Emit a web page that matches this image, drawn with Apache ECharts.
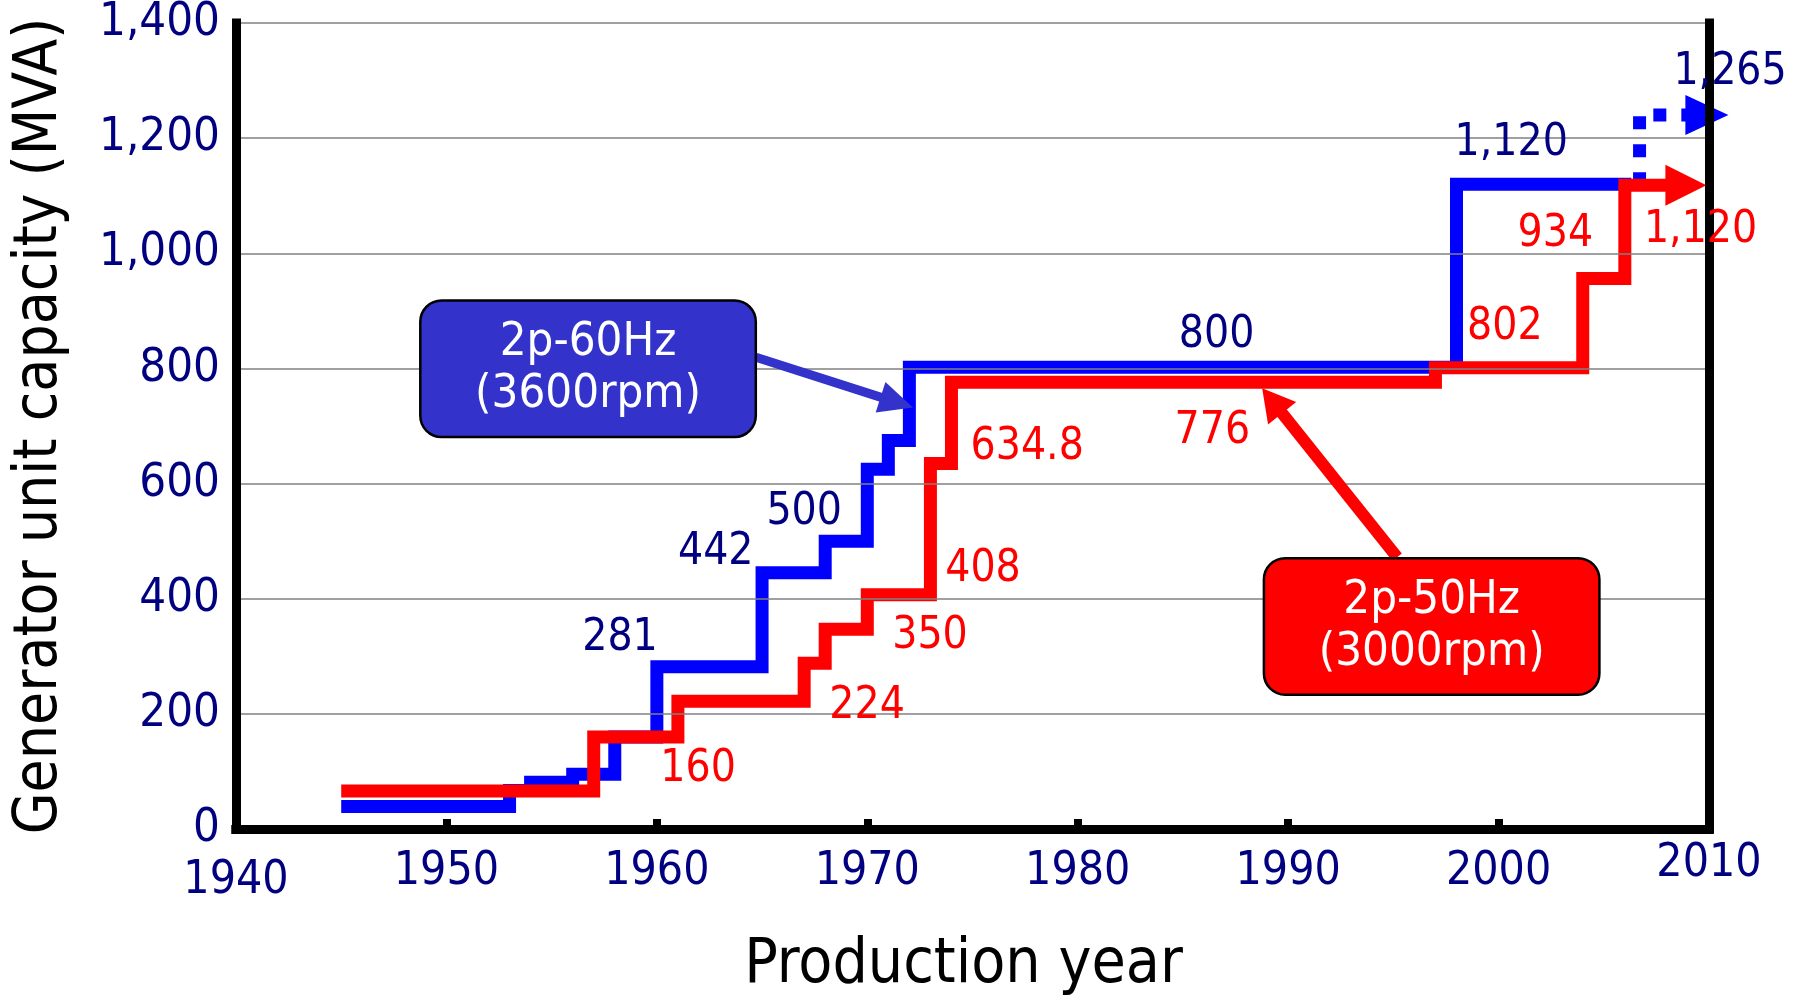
<!DOCTYPE html>
<html>
<head>
<meta charset="utf-8">
<script src="https://cdn.jsdelivr.net/npm/echarts@6/dist/echarts.min.js"></script>
<style>
  html, body { margin: 0; padding: 0; background: #fff; }
  #chart { width: 1803px; height: 995px; }
</style>
</head>
<body>
<div id="chart"></div>
<script>
const FONT = "'DejaVu Sans Condensed', 'DejaVu Sans', sans-serif";

// 2p-60Hz (3600rpm): year of each capacity step and the new capacity (MVA)
const blueYears = [1945, 1953, 1954, 1956, 1958, 1960, 1965, 1968, 1970, 1971, 1972, 1998, 2006];
const blueValues = [39, 67, 81, 95, 160, 282, 445, 500, 625, 675, 802, 1120, 1118];
// planned extension (dotted, ends in arrow)
const blueFutureYears = [2006.7, 2006.7, 2009.9];
const blueFutureValues = [1118, 1240, 1240];

// 2p-50Hz (3000rpm)
const redYears = [1945, 1957, 1961, 1967, 1968, 1970, 1973, 1974, 1997, 2004, 2006, 2008.9];
const redValues = [66, 160, 222, 288, 347, 407, 635, 776, 801, 956, 1118, 1118];

// value callouts
const blueLabels = ['281', '442', '500', '800', '1,120', '1,265'];
const blueLabelYears = [1958.25, 1962.8, 1967.0, 1986.6, 2000.6, 2011.0];
const blueLabelValues = [330, 481, 550, 857, 1190, 1314];
const redLabels = ['160', '224', '350', '408', '634.8', '776', '802', '934', '1,120'];
const redLabelYears = [1961.96, 1969.99, 1972.98, 1975.5, 1977.6, 1986.4, 2000.3, 2002.7, 2009.6];
const redLabelValues = [103, 212, 335, 450, 663, 691, 871, 1032, 1040];

const NAVY = '#000080';
const BLUE = '#0000ff';
const RED = '#ff0000';
const BOX_BLUE = '#3333cc';

const zip = (xs, ys) => xs.map((x, i) => [x, ys[i]]);

function withArrow(points, size) {
  const last = points.length - 1;
  return points.map((p, i) => i === last
    ? { value: p, symbol: 'triangle', symbolRotate: -90, symbolSize: size }
    : p);
}

function labelSeries(texts, xs, ys, color) {
  return {
    type: 'scatter',
    symbolSize: 0,
    clip: false,
    silent: true,
    z: 6,
    itemStyle: { opacity: 1 },
    data: xs.map((x, i) => ({ value: [x, ys[i]], name: texts[i] })),
    label: {
      show: true,
      position: 'inside',
      opacity: 1,
      formatter: p => p.name,
      color: color,
      fontSize: 44,
      fontFamily: FONT
    }
  };
}

function calloutSeries(text, center, bg, arrowFrom, arrowTo, arrowWidth, headSize) {
  return {
    type: 'scatter',
    symbolSize: 0,
    clip: false,
    silent: true,
    z: 8,
    itemStyle: { opacity: 1 },
    data: [center],
    label: {
      show: true,
      position: 'inside',
      opacity: 1,
      formatter: text,
      color: '#fff',
      fontSize: 47,
      lineHeight: 52,
      fontFamily: FONT,
      align: 'center',
      width: 333,
      padding: [15, 0, 15, 0],
      backgroundColor: bg,
      borderColor: '#000',
      borderWidth: 2.5,
      borderRadius: 20
    },
    markLine: {
      silent: true,
      animation: false,
      symbol: ['none', 'triangle'],
      symbolSize: headSize,
      label: { show: false },
      lineStyle: { color: bg, width: arrowWidth, type: 'solid', opacity: 1 },
      data: [[{ coord: arrowFrom }, { coord: arrowTo }]]
    }
  };
}

const frameLine = { show: true, lineStyle: { color: '#000', width: 9, cap: 'square' } };

const chart = echarts.init(document.getElementById('chart'));
chart.setOption({
  animation: false,
  backgroundColor: '#fff',
  grid: { left: 236, right: 94, top: 23, bottom: 166, outerBoundsMode: 'none' },
  xAxis: [{
    type: 'value',
    min: 1940, max: 2010, interval: 10,
    z: 5,
    name: 'Production year',
    nameLocation: 'middle',
    nameGap: 106,
    nameTextStyle: { color: '#000', fontSize: 62, fontFamily: FONT, padding: [0, 18, 0, 0] },
    axisLine: frameLine,
    axisTick: { show: true, inside: true, length: 10, lineStyle: { color: '#000', width: 8 } },
    splitLine: { show: false },
    axisLabel: {
      margin: 12,
      formatter: v => v === 1940 ? '{lo|1940}' : v === 2010 ? '{hi|2010}' : '{n|' + v + '}',
      rich: {
        n: { color: NAVY, fontSize: 46, fontFamily: FONT, padding: [8, 0, 0, 0] },
        lo: { color: NAVY, fontSize: 46, fontFamily: FONT, padding: [17, 0, 0, 0] },
        hi: { color: NAVY, fontSize: 46, fontFamily: FONT, padding: [0, 0, 0, 0] }
      }
    }
  }, {
    type: 'value',
    position: 'top',
    min: 1940, max: 2010,
    z: 5,
    axisLine: frameLine,
    axisTick: { show: false },
    axisLabel: { show: false },
    splitLine: { show: false }
  }],
  yAxis: [{
    type: 'value',
    min: 0, max: 1400, interval: 200,
    z: 4,
    name: 'Generator unit capacity (MVA)',
    nameLocation: 'middle',
    nameGap: 166,
    nameTextStyle: { color: '#000', fontSize: 60, fontFamily: FONT },
    axisLine: frameLine,
    axisTick: { show: false },
    axisLabel: {
      margin: 16,
      color: NAVY,
      fontSize: 47,
      fontFamily: FONT,
      padding: [10, 0, 0, 0],
      formatter: v => v.toLocaleString('en-US')
    },
    splitLine: { show: true, lineStyle: { color: '#808080', width: 1.5 } }
  }, {
    type: 'value',
    position: 'right',
    min: 0, max: 1400,
    z: 5,
    axisLine: frameLine,
    axisTick: { show: false },
    axisLabel: { show: false },
    splitLine: { show: false }
  }],
  series: [
    {
      name: '2p-60Hz',
      type: 'line',
      step: 'end',
      symbol: 'none',
      z: 2,
      lineStyle: { color: BLUE, width: 13, join: 'miter', cap: 'butt' },
      data: zip(blueYears, blueValues)
    },
    {
      name: '2p-60Hz planned',
      type: 'line',
      symbol: 'none',
      itemStyle: { color: BLUE },
      z: 2,
      lineStyle: { color: BLUE, width: 13, type: [13, 15], cap: 'butt' },
      data: withArrow(zip(blueFutureYears, blueFutureValues), [40, 43])
    },
    {
      name: '2p-50Hz',
      type: 'line',
      step: 'end',
      symbol: 'none',
      itemStyle: { color: RED },
      z: 3,
      lineStyle: { color: RED, width: 13, join: 'miter', cap: 'butt' },
      data: withArrow(zip(redYears, redValues), [41, 41])
    },
    labelSeries(blueLabels, blueLabelYears, blueLabelValues, NAVY),
    labelSeries(redLabels, redLabelYears, redLabelValues, RED),
    calloutSeries('2p-60Hz\n(3600rpm)', [1956.73, 799.4], BOX_BLUE,
      [1964.71, 819.3], [1971.4, 741], 9, [32, 34]),
    calloutSeries('2p-50Hz\n(3000rpm)', [1996.82, 351.9], RED,
      [1995.18, 472.2], [1989.24, 743.8], 12, [36, 32])
  ]
});
</script>
</body>
</html>
